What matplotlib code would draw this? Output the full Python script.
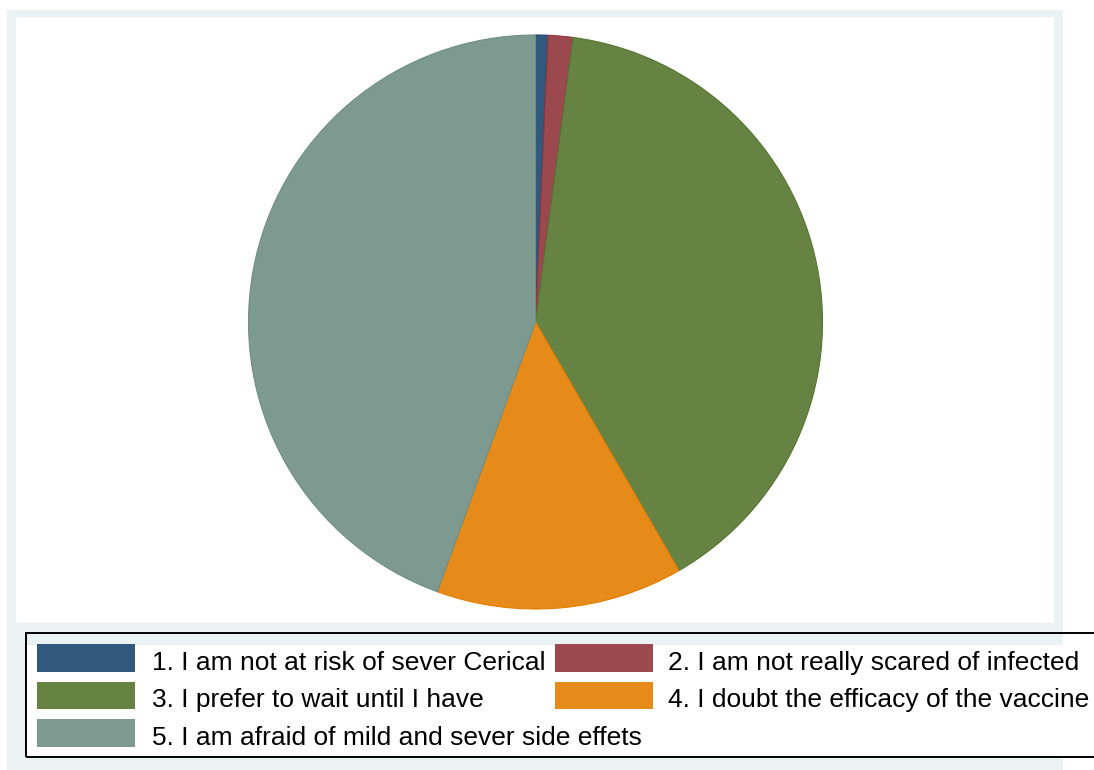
import matplotlib
matplotlib.use("Agg")
import matplotlib.pyplot as plt
from matplotlib.patches import Rectangle

plt.rcParams['font.family'] = ['Liberation Sans', 'DejaVu Sans']

# Reasons for vaccine hesitancy (respondent counts)
categories = [
    "1. I am not at risk of sever Cerical",
    "2. I am not really scared of infected",
    "3. I prefer to wait until I have",
    "4. I doubt the efficacy of the vaccine",
    "5. I am afraid of mild and sever side effets",
]
counts = [1, 2, 57, 20, 64]

# Stata s2color palette, slices at 90% intensity
base_rgb = [(26, 71, 111), (144, 53, 59), (85, 117, 47), (227, 126, 0), (110, 142, 132)]
fill_colors = [tuple((0.9 * c + 0.1 * 255) / 255 for c in rgb) for rgb in base_rgb]
edge_colors = [tuple(c / 255 for c in rgb) for rgb in base_rgb]

W, H = 1094, 770
fig = plt.figure(figsize=(W / 100, H / 100), dpi=100, facecolor='white')

def fx(x):
    return x / W

def fy(y):
    return 1 - y / H

def frect(x0, y0, x1, y1, **kw):
    return Rectangle((fx(x0), fy(y1)), fx(x1) - fx(x0), fy(y0) - fy(y1),
                     transform=fig.transFigure, **kw)

# graph region and plot region
fig.patches.append(frect(7, 10, 1063, 775, facecolor='#EAF2F3', edgecolor='none', zorder=0))
fig.patches.append(frect(16, 17, 1054, 623, facecolor='white', edgecolor='none', zorder=1))

# pie
cx, cy, r = 535.5, 322, 287
ax = fig.add_axes([fx(cx - r), fy(cy + r), fx(2 * r), (2 * r) / H])
ax.set_zorder(6)
ax.patch.set_visible(False)
ax.axis('off')
wedges, _ = ax.pie(counts, colors=fill_colors, startangle=90, counterclock=False,
                   radius=1, wedgeprops=dict(linewidth=0.8))
for w, ec in zip(wedges, edge_colors):
    w.set_edgecolor(ec)
    w.set_clip_on(False)
ax.set_xlim(-1, 1)
ax.set_ylim(-1, 1)

# legend box
fig.patches.append(frect(27, 645, 1100, 756, facecolor='white', edgecolor='none', zorder=2))
fig.patches.append(frect(26, 633, 1100, 757, facecolor='none', edgecolor='black',
                         linewidth=1.4, zorder=3))

swatch_x = [37, 555]
text_x = [152, 668]
row_top = [644, 682, 719]
row_bottom = [672, 709, 747]
for i, (label, fc) in enumerate(zip(categories, fill_colors)):
    row, col = divmod(i, 2)
    fig.patches.append(frect(swatch_x[col], row_top[row], swatch_x[col] + 98, row_bottom[row],
                             facecolor=fc, edgecolor='none', zorder=4))
    fig.text(fx(text_x[col]), fy(row_bottom[row] - 2), label, fontsize=19,
             ha='left', va='baseline', color='black', zorder=5)

fig.savefig('out.png', dpi=100, facecolor='white')
